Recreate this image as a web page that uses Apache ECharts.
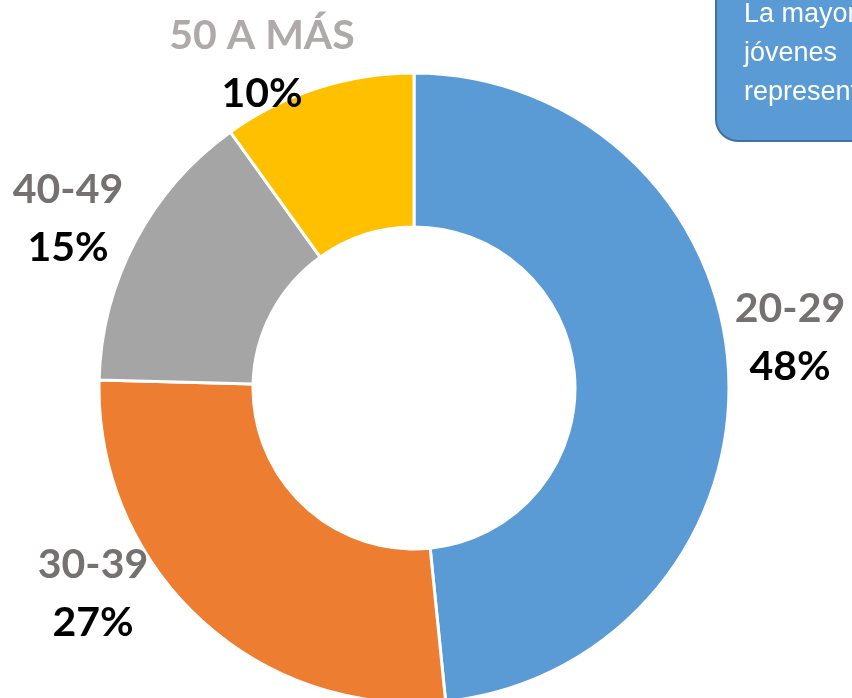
<!DOCTYPE html>
<html>
<head>
<meta charset="utf-8">
<script src="https://cdn.jsdelivr.net/npm/echarts@6/dist/echarts.min.js"></script>
<style>
  html, body { margin: 0; padding: 0; background: #fff; }
  #chart { width: 852px; height: 698px; }
</style>
</head>
<body>
<div id="chart"></div>
<script>
// grupos de edad y su participación (%)
const categories = ['20-29', '30-39', '40-49', '50 A MÁS']
const shares = [48.4, 27.0, 14.7, 9.9]
const colors = ['#5B9BD5', '#ED7D31', '#A5A5A5', '#FFC000']
const catColors = ['#767171', '#767171', '#767171', '#AEAAAA']
const noteLines = ['La mayoría de', 'jóvenes', 'representan']

// posiciones de las etiquetas (centro del bloque de texto)
const labelSpots = [[790, 338], [93, 594], [68, 219], [262, 65]]

const chart = echarts.init(document.getElementById('chart'))

const txt = (color) => ({ fontFamily: 'Lato', fontWeight: 'bold', fontSize: 41, color: color, lineHeight: 58 })

chart.setOption({
  animation: false,
  series: [{
    type: 'pie',
    center: [414, 388],
    radius: [161, 315],
    startAngle: 90,
    clockwise: true,
    silent: true,
    itemStyle: {
      borderColor: '#fff',
      borderWidth: 3
    },
    label: {
      show: true,
      position: 'outside',
      overflow: 'none',
      formatter: p => '{cat' + p.dataIndex + '|' + p.name + '}\n{pct|' + Math.round(p.value) + '%}',
      rich: {
        cat0: txt(catColors[0]),
        cat1: txt(catColors[1]),
        cat2: txt(catColors[2]),
        cat3: txt(catColors[3]),
        pct: txt('#000')
      }
    },
    labelLine: { show: false },
    labelLayout: p => ({
      x: labelSpots[p.dataIndex][0],
      y: labelSpots[p.dataIndex][1],
      align: 'center',
      verticalAlign: 'middle'
    }),
    data: categories.map((c, i) => ({
      name: c,
      value: shares[i],
      itemStyle: { color: colors[i] }
    }))
  }],
  graphic: [{
    type: 'rect',
    shape: { x: 716, y: -30, width: 170, height: 171, r: 22 },
    style: { fill: '#5B9BD5', stroke: '#41719C', lineWidth: 2 },
    z: 10
  }].concat(noteLines.map((t, i) => ({
    type: 'text',
    left: 744,
    top: 1 + i * 39,
    z: 11,
    style: {
      text: t,
      fill: '#fff',
      font: '27px "Liberation Sans", Arial, sans-serif'
    }
  })))
})
</script>
</body>
</html>
